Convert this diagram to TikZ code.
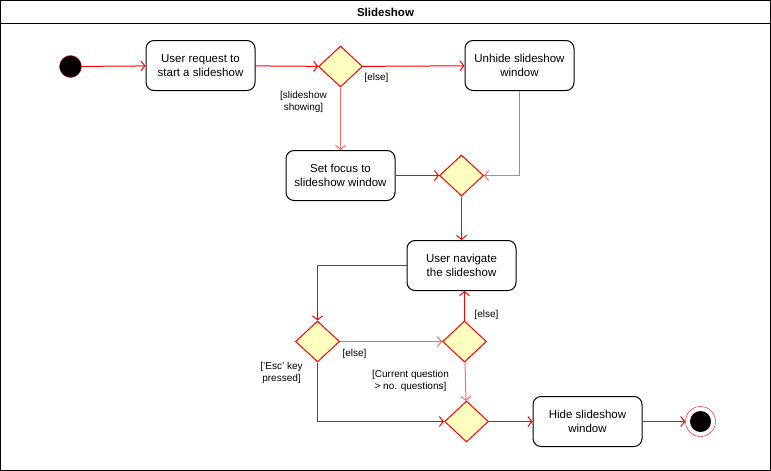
\documentclass[tikz,border=0pt]{standalone}
\usepackage{fontspec}
\setmainfont{Liberation Sans}
\usetikzlibrary{arrows.meta,shapes.geometric}
\definecolor{umlred}{HTML}{FF0000}
\definecolor{umlpink}{HTML}{FF6666}
\definecolor{umlyellow}{HTML}{FFFFC0}
\tikzset{
  action/.style={draw=black, line width=1pt, rounded corners=8pt, minimum width=109pt,
    minimum height=50pt, align=center, font=\fontsize{11.5}{14}\selectfont},
  decision/.style={diamond, draw=umlred, fill=umlyellow, line width=1pt,
    minimum width=44pt, minimum height=41pt, inner sep=0pt},
  flow/.style={draw=umlred, line width=1pt, -{Straight Barb[length=4pt,width=10pt]}},
  softflow/.style={flow, draw=umlpink},
  guard/.style={font=\fontsize{10}{12}\selectfont, align=center},
}
\begin{document}
\begin{tikzpicture}[x=1pt,y=-1pt,yshift=0.5pt,xshift=0.5pt]
		%%%%% FRAME %%%%%
		\useasboundingbox (-0.5,-0.5) rectangle (770.5,470.5);
		\draw[line width=1pt] (0,0) rectangle (770,470);
		\draw[line width=1pt] (0,23) -- (770,23);
		\node[font=\bfseries\fontsize{11.5}{14}\selectfont] (title) at (385,12) {Slideshow};
		
		%%%%% NODES %%%%%
		\node[circle, fill=black, draw=umlred, minimum size=22pt, inner sep=0pt] (start) at (70,66) {};
		\node[action] (request) at (200,65) {User request to\\start a slideshow};
		\node[decision] (showing) at (340,66) {};
		\node[action] (unhide) at (519,65) {Unhide slideshow\\window};
		\node[action] (focus) at (340,175) {Set focus to\\slideshow window};
		\node[decision] (merge) at (461,175) {};
		\node[action] (navigate) at (461,265) {User navigate\\the slideshow};
		\node[decision] (esc) at (317,341) {};
		\node[decision] (last) at (464,341) {};
		\node[decision] (done) at (466,421) {};
		\node[action] (hide) at (587,421) {Hide slideshow\\window};
		\node[circle, draw=umlred, fill=white, minimum size=30pt, inner sep=0pt] (stop) at (700,421) {};
		\node[circle, fill=black, minimum size=21pt, inner sep=0pt] (stopdot) at (stop) {};
		
		%%%%% FLOWS %%%%%
		\draw[flow] (start) -- (request);
		\draw[flow] (request) -- (showing);
		\draw[flow] (showing) -- (unhide);
		\draw[softflow] (showing) -- (focus);
		\draw[softflow] (unhide.south) |- (merge.east);
		\draw[flow] (focus) -- (merge);
		\draw[flow] (merge) -- (navigate);
		\draw[flow] (navigate.west) -| (esc.north);
		\draw[softflow] (esc) -- (last);
		\draw[flow] (last.north) -- (last.north |- navigate.south);
		\draw[softflow] (last) -- (done);
		\draw[flow] (esc.south) |- (done.west);
		\draw[flow] (done) -- (hide);
		\draw[flow] (hide) -- (stop);
		
		%%%%% GUARDS %%%%%
		\node[guard] (elseA) at (376,77) {[else]};
		\node[guard] (showinglbl) at (303,101) {[slideshow\\showing]};
		\node[guard] (elseB) at (354,353) {[else]};
		\node[guard] (elseC) at (486,314) {[else]};
		\node[guard] (esclbl) at (281,372) {['Esc' key\\pressed]};
		\node[guard] (lastlbl) at (410,380) {[Current question\\> no. questions]};
		
		%%%%% END %%%%%
	\end{tikzpicture}
\end{document}
